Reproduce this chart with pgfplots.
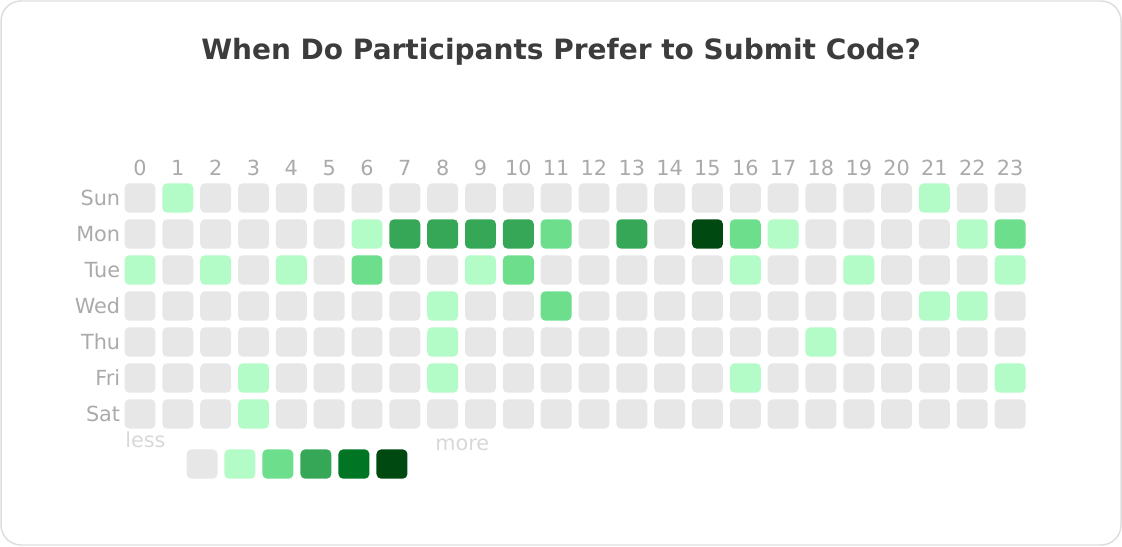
\documentclass[border=0pt]{standalone}
\usepackage{pgfplots}
\usepackage{pgfplotstable}
\pgfplotsset{compat=1.18}
\usepackage{fontspec}
\setmainfont{DejaVu Sans}

\definecolor{tickgray}{HTML}{AAAAAA}
\definecolor{titlegray}{HTML}{3C3C3C}
\definecolor{keygray}{HTML}{D8D8D8}
\definecolor{framegray}{HTML}{DDDDDD}
\definecolor{lv0}{RGB}{231,231,231}
\definecolor{lv1}{RGB}{179,251,199}
\definecolor{lv2}{RGB}{108,222,140}
\definecolor{lv3}{RGB}{54,167,86}
\definecolor{lv4}{RGB}{0,118,36}
\definecolor{lv5}{RGB}{0,73,16}

% rounded square used for every cell
\pgfdeclareplotmark{cell}{%
  \pgfsetcornersarced{\pgfpoint{3.5pt}{3.5pt}}%
  \pgfpathmoveto{\pgfpoint{-11.6pt}{0pt}}%
  \pgfpathlineto{\pgfpoint{-11.6pt}{11pt}}%
  \pgfpathlineto{\pgfpoint{11.6pt}{11pt}}%
  \pgfpathlineto{\pgfpoint{11.6pt}{-11pt}}%
  \pgfpathlineto{\pgfpoint{-11.6pt}{-11pt}}%
  \pgfpathclose
  \pgfusepath{fill}}

% hour, day (0 = Sun), activity level 0..5
\pgfplotstableread[row sep=\\]{
h d lvl\\
0 0 0\\ 1 0 1\\ 2 0 0\\ 3 0 0\\ 4 0 0\\ 5 0 0\\ 6 0 0\\ 7 0 0\\ 8 0 0\\ 9 0 0\\ 10 0 0\\ 11 0 0\\
12 0 0\\ 13 0 0\\ 14 0 0\\ 15 0 0\\ 16 0 0\\ 17 0 0\\ 18 0 0\\ 19 0 0\\ 20 0 0\\ 21 0 1\\ 22 0 0\\ 23 0 0\\
0 1 0\\ 1 1 0\\ 2 1 0\\ 3 1 0\\ 4 1 0\\ 5 1 0\\ 6 1 1\\ 7 1 3\\ 8 1 3\\ 9 1 3\\ 10 1 3\\ 11 1 2\\
12 1 0\\ 13 1 3\\ 14 1 0\\ 15 1 5\\ 16 1 2\\ 17 1 1\\ 18 1 0\\ 19 1 0\\ 20 1 0\\ 21 1 0\\ 22 1 1\\ 23 1 2\\
0 2 1\\ 1 2 0\\ 2 2 1\\ 3 2 0\\ 4 2 1\\ 5 2 0\\ 6 2 2\\ 7 2 0\\ 8 2 0\\ 9 2 1\\ 10 2 2\\ 11 2 0\\
12 2 0\\ 13 2 0\\ 14 2 0\\ 15 2 0\\ 16 2 1\\ 17 2 0\\ 18 2 0\\ 19 2 1\\ 20 2 0\\ 21 2 0\\ 22 2 0\\ 23 2 1\\
0 3 0\\ 1 3 0\\ 2 3 0\\ 3 3 0\\ 4 3 0\\ 5 3 0\\ 6 3 0\\ 7 3 0\\ 8 3 1\\ 9 3 0\\ 10 3 0\\ 11 3 2\\
12 3 0\\ 13 3 0\\ 14 3 0\\ 15 3 0\\ 16 3 0\\ 17 3 0\\ 18 3 0\\ 19 3 0\\ 20 3 0\\ 21 3 1\\ 22 3 1\\ 23 3 0\\
0 4 0\\ 1 4 0\\ 2 4 0\\ 3 4 0\\ 4 4 0\\ 5 4 0\\ 6 4 0\\ 7 4 0\\ 8 4 1\\ 9 4 0\\ 10 4 0\\ 11 4 0\\
12 4 0\\ 13 4 0\\ 14 4 0\\ 15 4 0\\ 16 4 0\\ 17 4 0\\ 18 4 1\\ 19 4 0\\ 20 4 0\\ 21 4 0\\ 22 4 0\\ 23 4 0\\
0 5 0\\ 1 5 0\\ 2 5 0\\ 3 5 1\\ 4 5 0\\ 5 5 0\\ 6 5 0\\ 7 5 0\\ 8 5 1\\ 9 5 0\\ 10 5 0\\ 11 5 0\\
12 5 0\\ 13 5 0\\ 14 5 0\\ 15 5 0\\ 16 5 1\\ 17 5 0\\ 18 5 0\\ 19 5 0\\ 20 5 0\\ 21 5 0\\ 22 5 0\\ 23 5 1\\
0 6 0\\ 1 6 0\\ 2 6 0\\ 3 6 1\\ 4 6 0\\ 5 6 0\\ 6 6 0\\ 7 6 0\\ 8 6 0\\ 9 6 0\\ 10 6 0\\ 11 6 0\\
12 6 0\\ 13 6 0\\ 14 6 0\\ 15 6 0\\ 16 6 0\\ 17 6 0\\ 18 6 0\\ 19 6 0\\ 20 6 0\\ 21 6 0\\ 22 6 0\\ 23 6 0\\
}\cells

% colour key below the grid
\pgfplotstableread[row sep=\\]{
x y lvl\\
1.64 7.39 0\\ 2.64 7.39 1\\ 3.645 7.39 2\\ 4.65 7.39 3\\ 5.655 7.39 4\\ 6.66 7.39 5\\
}\keycells

\pgfplotsset{
  levels/.style={
    scatter, only marks, mark=cell,
    point meta=explicit symbolic,
    scatter/classes={
      0={mark=cell, fill=lv0}, 1={mark=cell, fill=lv1}, 2={mark=cell, fill=lv2},
      3={mark=cell, fill=lv3}, 4={mark=cell, fill=lv4}, 5={mark=cell, fill=lv5}}},
}

\begin{document}
\begin{tikzpicture}
\begin{axis}[
    scale only axis,
    width=680.9pt, height=189pt,
    xmin=-0.5, xmax=23.5,
    ymin=-0.5, ymax=6.5,
    y dir=reverse,
    clip=false,
    axis line style={draw=none},
    major tick length=0pt,
    xtick={0,...,23},
    xticklabel pos=upper,
    ytick={0,...,6},
    yticklabels={Sun,Mon,Tue,Wed,Thu,Fri,Sat},
    tick label style={font=\fontsize{15.6}{18}\selectfont, text=tickgray},
    yticklabel style={xshift=2.8pt},
    xticklabel style={yshift=-0.4pt},
    /pgf/number format/assume math mode=true,
]
\addplot[levels] table[x=h, y=d, meta=lvl] {\cells};
\addplot[levels] table[x=x, y=y, meta=lvl] {\keycells};

\node[anchor=base, font=\bfseries\fontsize{21}{25}\selectfont, text=titlegray]
    at (axis cs:11.13,-3.861) {When Do Participants Prefer to Submit Code?};
\node[anchor=base west, inner sep=0pt, font=\fontsize{15.6}{18}\selectfont, text=keygray]
    at (axis cs:-0.397,6.917) {less};
\node[anchor=base west, inner sep=0pt, font=\fontsize{15.6}{18}\selectfont, text=keygray]
    at (axis cs:7.80,7.0) {more};

\draw[framegray, line width=1.1pt, rounded corners=15pt]
    (axis cs:-3.674,-5.472) rectangle (axis cs:25.932,9.639);
\coordinate (bbSW) at (axis cs:-3.701,9.667);
\coordinate (bbNE) at (axis cs:25.958,-5.5);
\end{axis}
\pgfresetboundingbox
\path (bbSW) rectangle (bbNE);
\end{tikzpicture}
\end{document}
